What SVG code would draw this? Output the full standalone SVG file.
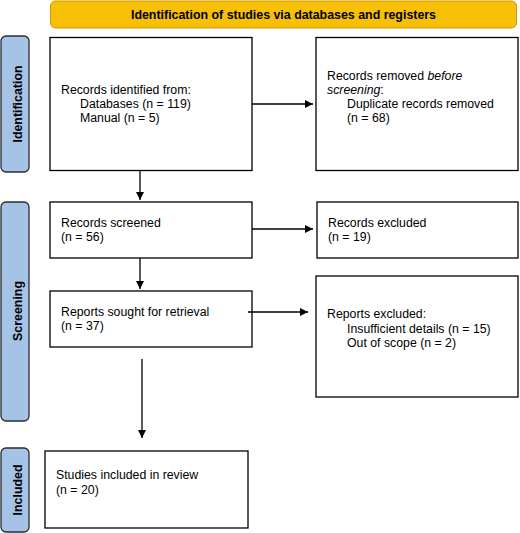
<svg xmlns="http://www.w3.org/2000/svg" width="520" height="533" viewBox="0 0 520 533">
<defs>
<marker id="ah" viewBox="0 0 10 10" refX="10" refY="5" markerWidth="8" markerHeight="8" markerUnits="userSpaceOnUse" orient="auto">
<path d="M0,0 L10,5 L0,10 z" fill="#000"/>
</marker>
<style>
.box{fill:#fff;stroke:#000;stroke-width:1.3}
.side{fill:#a4c3e6;stroke:#2b2b2b;stroke-width:1.3}
.t{font-family:"Liberation Sans",Arial,sans-serif;font-size:12.3px;fill:#000}
.st{font-family:"Liberation Sans",Arial,sans-serif;font-size:12.4px;font-weight:bold;fill:#000;text-anchor:middle}
.c{stroke:#000;stroke-width:1.3;fill:none;marker-end:url(#ah)}
</style>
</defs>
<rect width="520" height="533" fill="#fff"/>
<g id="header">
<rect x="50.5" y="1" width="466" height="27" rx="5" fill="#f7bf06" stroke="#c99b00" stroke-width="1"/>
<text class="st" x="283.5" y="19">Identification of studies via databases and registers</text>
</g>
<g id="side-identification">
<rect class="side" x="1" y="36" width="28" height="136" rx="5"/>
<text class="st" transform="translate(21.5,104) rotate(-90)">Identification</text>
</g>
<g id="side-screening">
<rect class="side" x="1" y="202" width="28" height="219" rx="5"/>
<text class="st" transform="translate(21.5,311) rotate(-90)">Screening</text>
</g>
<g id="side-included">
<rect class="side" x="1" y="448" width="28" height="84" rx="5"/>
<text class="st" transform="translate(21.5,490) rotate(-90)">Included</text>
</g>
<g id="n-identified">
<rect class="box" x="50" y="37.5" width="202" height="133"/>
<text class="t" x="61" y="94">Records identified from:</text>
<text class="t" x="80" y="108">Databases (n = 119)</text>
<text class="t" x="80" y="122">Manual (n = 5)</text>
</g>
<g id="n-removed">
<rect class="box" x="316" y="37.5" width="202" height="133"/>
<text class="t" x="327" y="80">Records removed <tspan font-style="italic">before</tspan></text>
<text class="t" x="327" y="94"><tspan font-style="italic">screening</tspan>:</text>
<text class="t" x="347" y="108">Duplicate records removed</text>
<text class="t" x="347" y="122">(n = 68)</text>
</g>
<g id="n-screened">
<rect class="box" x="50" y="202" width="202" height="56"/>
<text class="t" x="61" y="227">Records screened</text>
<text class="t" x="61" y="241">(n = 56)</text>
</g>
<g id="n-excluded">
<rect class="box" x="317" y="202" width="201" height="56"/>
<text class="t" x="328" y="227">Records excluded</text>
<text class="t" x="328" y="241">(n = 19)</text>
</g>
<g id="n-sought">
<rect class="box" x="50" y="291" width="202" height="56"/>
<text class="t" x="61" y="316">Reports sought for retrieval</text>
<text class="t" x="61" y="330">(n = 37)</text>
</g>
<g id="n-reports-excluded">
<rect class="box" x="316" y="276" width="202" height="121"/>
<text class="t" x="327" y="318">Reports excluded:</text>
<text class="t" x="347" y="333">Insufficient details (n = 15)</text>
<text class="t" x="347" y="347">Out of scope (n = 2)</text>
</g>
<g id="n-included">
<rect class="box" x="45" y="451" width="203" height="77"/>
<text class="t" x="56" y="479">Studies included in review</text>
<text class="t" x="56" y="494">(n = 20)</text>
</g>
<g id="connectors">
<line class="c" x1="252" y1="104" x2="313" y2="104"/>
<line class="c" x1="140" y1="171" x2="140" y2="200"/>
<line class="c" x1="252" y1="229" x2="313" y2="229"/>
<line class="c" x1="140" y1="258" x2="140" y2="289"/>
<line class="c" x1="248" y1="312" x2="308" y2="312"/>
<line class="c" x1="142" y1="359" x2="142" y2="438"/>
</g>
</svg>
